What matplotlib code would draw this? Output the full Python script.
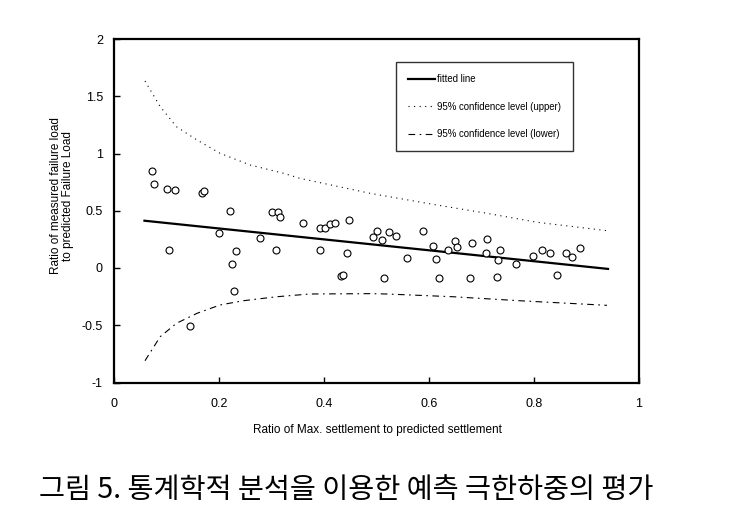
import matplotlib
matplotlib.use("Agg")
import matplotlib.pyplot as plt
from matplotlib.ticker import FixedLocator, FuncFormatter

plt.rcParams['font.family'] = ['Liberation Sans', 'DejaVu Sans']
plt.rcParams['axes.unicode_minus'] = False

# measured data points
pts_x = [0.073, 0.0756, 0.101, 0.117, 0.167, 0.172, 0.221, 0.3015, 0.313, 0.316,
         0.360, 0.392, 0.402, 0.411, 0.420, 0.448, 0.200, 0.279, 0.104, 0.232,
         0.309, 0.392, 0.444, 0.225, 0.432, 0.436, 0.228, 0.145,
         0.500, 0.494, 0.510, 0.524, 0.538, 0.588, 0.559, 0.515, 0.608, 0.613,
         0.637, 0.650, 0.654, 0.619, 0.681, 0.6775, 0.711, 0.708, 0.736, 0.731,
         0.729, 0.766, 0.798, 0.815, 0.831, 0.844, 0.861, 0.872, 0.888]
pts_y = [0.847, 0.731, 0.687, 0.679, 0.652, 0.675, 0.500, 0.486, 0.489, 0.448,
         0.396, 0.349, 0.347, 0.382, 0.390, 0.422, 0.303, 0.265, 0.160, 0.146,
         0.157, 0.160, 0.128, 0.038, -0.070, -0.061, -0.201, -0.509,
         0.323, 0.273, 0.245, 0.317, 0.279, 0.323, 0.085, -0.085, 0.192, 0.079,
         0.157, 0.238, 0.183, -0.090, 0.218, -0.085, 0.253, 0.131, 0.157, 0.067,
         -0.079, 0.035, 0.107, 0.160, 0.134, -0.064, 0.128, 0.093, 0.177]

# fitted line end points
fit_x = [0.058, 0.941]
fit_y = [0.413, -0.008]

# 95% confidence levels
upper_x = [0.059, 0.088, 0.119, 0.158, 0.202, 0.259, 0.323, 0.354, 0.488, 0.615, 0.710, 0.805, 0.939]
upper_y = [1.633, 1.409, 1.234, 1.118, 1.002, 0.900, 0.827, 0.783, 0.652, 0.550, 0.478, 0.400, 0.326]
lower_x = [0.059, 0.088, 0.119, 0.158, 0.202, 0.246, 0.310, 0.373, 0.488, 0.519, 0.646, 0.773, 0.939]
lower_y = [-0.810, -0.600, -0.483, -0.396, -0.323, -0.286, -0.251, -0.227, -0.224, -0.227, -0.251, -0.286, -0.326]

xticks = [0, 0.2, 0.4, 0.6, 0.8, 1]
yticks = [-1, -0.5, 0, 0.5, 1, 1.5, 2]

labels = ['fitted line', '95% confidence level (upper)', '95% confidence level (lower)']

W, H = 732, 530
fig = plt.figure(figsize=(W / 100, H / 100), dpi=100)
ax = fig.add_axes([114 / W, 1 - 382.5 / H, 525 / W, 343.5 / H])

ax.plot(pts_x, pts_y, linestyle='none', marker='o', markersize=5,
        markerfacecolor='white', markeredgecolor='black', markeredgewidth=0.8, zorder=3)
l1, = ax.plot(fit_x, fit_y, color='black', linewidth=1.6, label=labels[0])
l2, = ax.plot(upper_x, upper_y, color='black', linewidth=0.8, linestyle=(0, (1, 4)), label=labels[1])
l3, = ax.plot(lower_x, lower_y, color='black', linewidth=0.8, linestyle=(0, (6, 4, 1.5, 4)), label=labels[2])

ax.set_xlim(0, 1)
ax.set_ylim(-1, 2)
ax.xaxis.set_major_locator(FixedLocator(xticks))
ax.yaxis.set_major_locator(FixedLocator(yticks))
fmt = FuncFormatter(lambda v, p: '%g' % v)
ax.xaxis.set_major_formatter(fmt)
ax.yaxis.set_major_formatter(fmt)
ax.tick_params(direction='in', length=4, width=1, labelsize=9, colors='black')
ax.tick_params(axis='y', pad=8)
ax.tick_params(axis='x', pad=11)
for s in ax.spines.values():
    s.set_linewidth(1.6)
    s.set_color('black')

leg = ax.legend(handles=[l1, l2, l3], loc='upper left', bbox_to_anchor=(0.537, 0.933),
                fontsize=6.9, frameon=True, fancybox=False, edgecolor='black',
                handlelength=2.8, handletextpad=0.2, labelspacing=1.85, borderpad=1.25,
                borderaxespad=0)
leg.get_frame().set_linewidth(1.0)

fig.text(377 / W, 1 - 429.5 / H, 'Ratio of Max. settlement to predicted settlement',
         ha='center', va='center', fontsize=8.5)
fig.text(62 / W, 1 - 196 / H, 'Ratio of measured failure load\nto predicted Failure Load',
         ha='center', va='center', rotation=90, fontsize=8.5, multialignment='center',
         linespacing=1.0)

fig.text(39 / W, 1 - 490 / H, '그림 5. 통계학적 분석을 이용한 예측 극한하중의 평가',
         ha='left', va='center', fontsize=20.4,
         family=['Noto Sans CJK KR', 'DejaVu Sans'])

fig.savefig('out.png', dpi=100)
